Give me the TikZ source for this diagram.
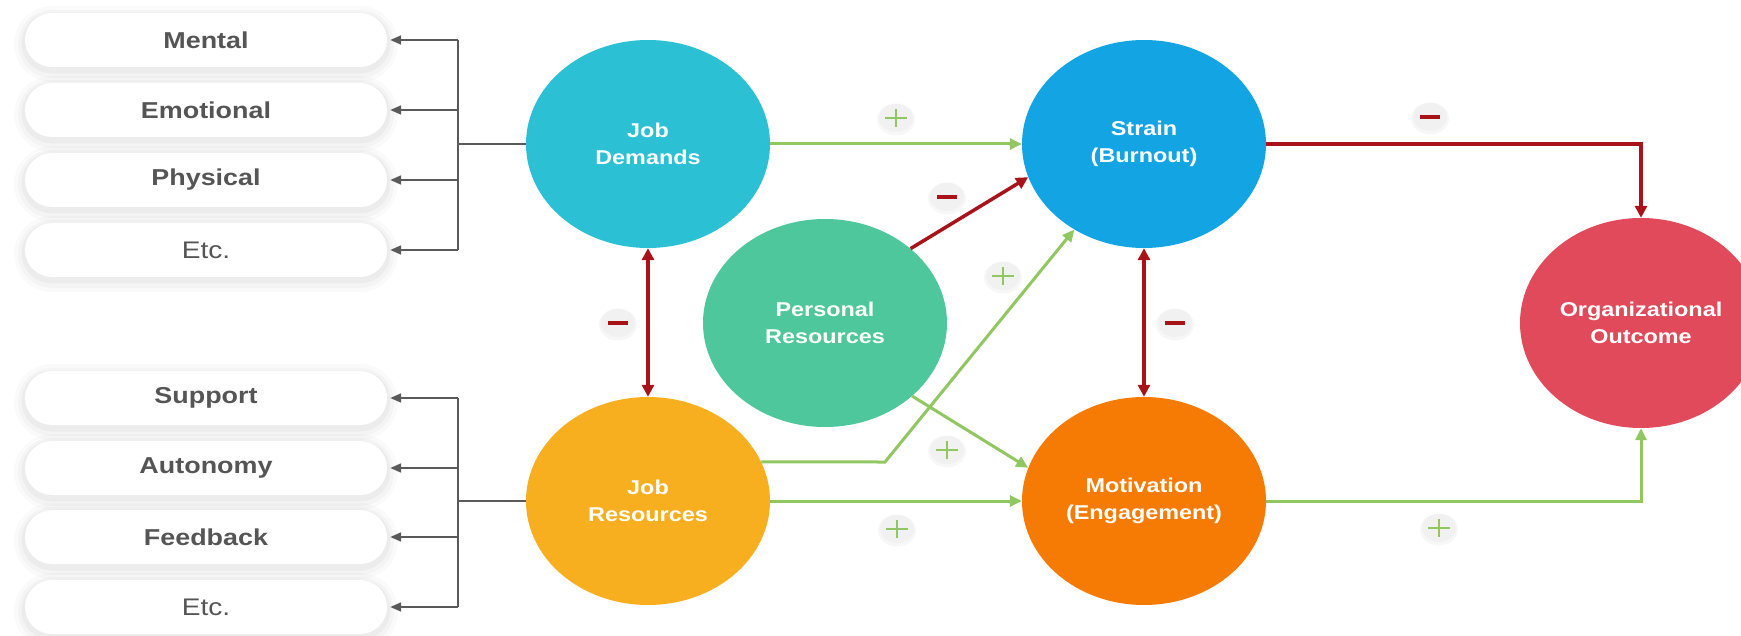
\documentclass[tikz,border=0pt]{standalone}
\usepackage{fontspec}
\setmainfont{Liberation Sans}[FakeStretch=1.17]
\usetikzlibrary{arrows.meta,shapes.geometric}
\definecolor{cJD}{HTML}{2BC0D4}
\definecolor{cST}{HTML}{12A4E3}
\definecolor{cPR}{HTML}{4DC79B}
\definecolor{cJR}{HTML}{F7AF1F}
\definecolor{cMO}{HTML}{F67B04}
\definecolor{cOO}{HTML}{E14A5B}
\definecolor{cGreen}{HTML}{90C760}
\definecolor{cRed}{HTML}{A8131A}
\definecolor{cGray}{HTML}{5A5A5A}
\definecolor{cText}{HTML}{555555}
\definecolor{cBadge}{HTML}{F1F1F1}
\begin{document}
\begin{tikzpicture}[x=1pt,y=-1pt,
  pill/.style={rounded corners=27pt, minimum width=362pt, minimum height=54pt,
    fill=white, text=cText, inner sep=0pt,
    font=\bfseries\fontsize{23}{28}\selectfont,
    preaction={draw=black, line width=22pt, draw opacity=0.02, transform canvas={yshift=-4pt}},
    preaction={draw=black, line width=14pt, draw opacity=0.025, transform canvas={yshift=-4pt}},
    preaction={draw=black, line width=7pt, draw opacity=0.03, transform canvas={yshift=-3pt}}},
  etcpill/.style={pill, font=\fontsize{24}{28}\selectfont},
  bub/.style={ellipse, fill=#1, inner sep=0pt, minimum width=244pt, minimum height=208pt,
    text=white, align=center, font=\bfseries\fontsize{20}{27}\selectfont},
  gline/.style={draw=cGray, line width=2pt},
  garrowgray/.style={gline, -{Triangle[length=11pt,width=9pt]}},
  posarrow/.style={draw=cGreen, line width=3pt, -{Triangle[length=12pt,width=11pt]}},
  negarrow/.style={draw=cRed, line width=3.5pt, -{Triangle[length=12pt,width=12pt]}},
  negboth/.style={draw=cRed, line width=3.5pt, {Triangle[length=12pt,width=12pt]}-{Triangle[length=12pt,width=12pt]}},
  badge/.style={ellipse, fill=cBadge, minimum width=34pt, minimum height=28pt, inner sep=0pt,
    preaction={draw=black, line width=4pt, draw opacity=0.03, transform canvas={yshift=-1.5pt}}},
  plusline/.style={draw=cGreen, line width=1.6pt},
  minusline/.style={draw=cRed, line width=4pt}
]
\useasboundingbox (0,0) rectangle (1741,636);
\fill[white] (0,0) rectangle (1741,636);

% pills
\node[pill] (p1) at (206,40) {Mental};
\node[pill] (p2) at (206,110) {Emotional};
\node[pill] (p3) at (206,180) {Physical};
\node[etcpill] (p4) at (206,250) {Etc.};
\node[pill] (q1) at (206,398) {Support};
\node[pill] (q2) at (206,468) {Autonomy};
\node[pill] (q3) at (206,537) {Feedback};
\node[etcpill] (q4) at (206,607) {Etc.};

% circles
\node[bub=cJD] (JD) at (648,144) {Job\\Demands};
\node[bub=cJR] (JR) at (648,501) {Job\\Resources};
\node[bub=cPR] (PR) at (825,323) {Personal\\Resources};
\node[bub=cST] (ST) at (1144,144) {Strain\\(Burnout)};
\node[bub=cMO] (MO) at (1144,501) {Motivation\\(Engagement)};
\node[bub=cOO, minimum width=242pt, minimum height=210pt] (OO) at (1641,323) {Organizational\\Outcome};

% gray connectors
\coordinate (ja) at (458,144);
\coordinate (jb) at (458,501);
\draw[gline] (JD.west) -- (ja);
\draw[gline] (ja |- p1) -- (ja |- p4);
\foreach \p in {p1,p2,p3,p4}{\draw[garrowgray] (ja |- \p) -- ([xshift=3pt]\p.east);}
\draw[gline] (JR.west) -- (jb);
\draw[gline] (jb |- q1) -- (jb |- q4);
\foreach \p in {q1,q2,q3,q4}{\draw[garrowgray] (jb |- \p) -- ([xshift=3pt]\p.east);}

% relations
\coordinate (bend) at (885,462);
\draw[posarrow] (JD) -- (ST);
\draw[posarrow] (JR) -- (MO);
\draw[posarrow] (JR.19) -- (bend) -- (ST);
\draw[posarrow] (PR.-40) -- (MO.164);
\draw[negarrow] (PR.41) -- (ST.196);
\draw[negboth] (JD) -- (JR);
\draw[negboth] (ST) -- (MO);
\coordinate (oa) at (1641,144);
\coordinate (ob) at (1641,501);
\draw[negarrow] (ST.east) -- (oa) -- (OO.north);
\draw[posarrow] (MO.east) -- (ob) -- (OO.south);

% badges
\foreach \n/\x/\y in {b1/896/118, b2/1003/276, b3/947/450, b4/897/529, b5/1439/528}{
  \node[badge] (\n) at (\x,\y) {};
  \draw[plusline] ([xshift=-11pt]\n.center) -- ([xshift=11pt]\n.center);
  \draw[plusline] ([yshift=-9pt]\n.center) -- ([yshift=9pt]\n.center);
}
\foreach \n/\x/\y in {m1/947/197, m2/618/323, m3/1175/323, m4/1430/117}{
  \node[badge] (\n) at (\x,\y) {};
  \draw[minusline] ([xshift=-10pt]\n.center) -- ([xshift=10pt]\n.center);
}
\end{tikzpicture}
\end{document}
